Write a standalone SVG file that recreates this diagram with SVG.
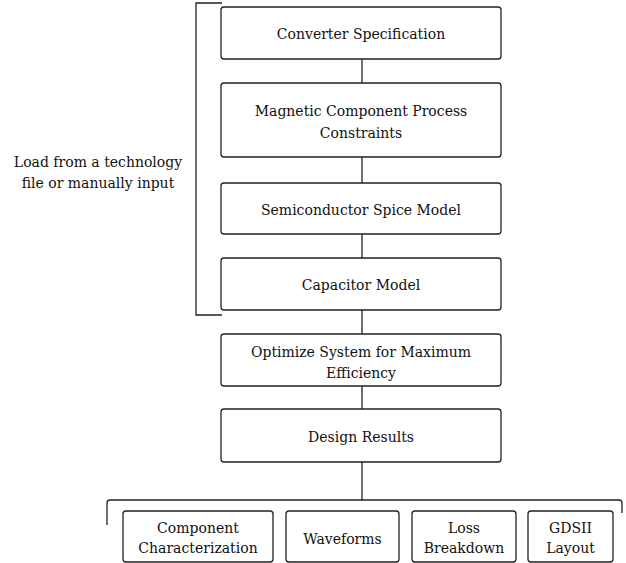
<svg xmlns="http://www.w3.org/2000/svg" width="626" height="563" viewBox="0 0 626 563">
<style>
.box{fill:#fff;stroke:#222;stroke-width:1.3}
.ln{fill:none;stroke:#222;stroke-width:1.3}
.t{font-family:'DejaVu Serif','Liberation Serif',serif;font-size:14px;fill:#111;text-anchor:middle}
</style>
<rect width="626" height="563" fill="#fff"/>
<g id="connectors">
<line class="ln" x1="362" y1="59" x2="362" y2="83"/>
<line class="ln" x1="362" y1="157" x2="362" y2="183"/>
<line class="ln" x1="362" y1="234" x2="362" y2="258"/>
<line class="ln" x1="362" y1="310" x2="362" y2="334"/>
<line class="ln" x1="362" y1="386" x2="362" y2="409"/>
<line class="ln" x1="362" y1="462" x2="362" y2="500"/>
<path class="ln" d="M107,525 V503 Q107,500 110,500 H619 Q622,500 622,503 V513"/>
<path class="ln" d="M222,3 H196 V315 H222"/>
</g>
<g class="t">
<g id="converter-spec"><rect class="box" x="221" y="7" width="280" height="52" rx="3"/><text x="361" y="38.5">Converter Specification</text></g>
<g id="magnetic"><rect class="box" x="221" y="83" width="280" height="74" rx="3"/><text x="361" y="115.5">Magnetic Component Process</text><text x="361" y="137.5">Constraints</text></g>
<g id="semiconductor"><rect class="box" x="221" y="183" width="280" height="51" rx="3"/><text x="361" y="215">Semiconductor Spice Model</text></g>
<g id="capacitor"><rect class="box" x="221" y="258" width="280" height="52" rx="3"/><text x="361" y="290">Capacitor Model</text></g>
<g id="optimize"><rect class="box" x="221" y="334" width="280" height="52" rx="3"/><text x="361" y="357">Optimize System for Maximum</text><text x="361" y="378">Efficiency</text></g>
<g id="design-results"><rect class="box" x="221" y="409" width="280" height="53" rx="3"/><text x="361" y="442">Design Results</text></g>
<g id="label-load"><text x="98" y="167">Load from a technology</text><text x="98" y="188">file or manually input</text></g>
<g id="component-char"><rect class="box" x="123" y="511" width="150" height="51" rx="3"/><text x="198" y="533">Component</text><text x="198" y="553">Characterization</text></g>
<g id="waveforms"><rect class="box" x="286" y="511" width="113" height="51" rx="3"/><text x="342.5" y="544">Waveforms</text></g>
<g id="loss"><rect class="box" x="412" y="511" width="104" height="51" rx="3"/><text x="464" y="533">Loss</text><text x="464" y="553">Breakdown</text></g>
<g id="gdsii"><rect class="box" x="528" y="511" width="85" height="51" rx="3"/><text x="570.5" y="533">GDSII</text><text x="570.5" y="553">Layout</text></g>
</g>
</svg>
